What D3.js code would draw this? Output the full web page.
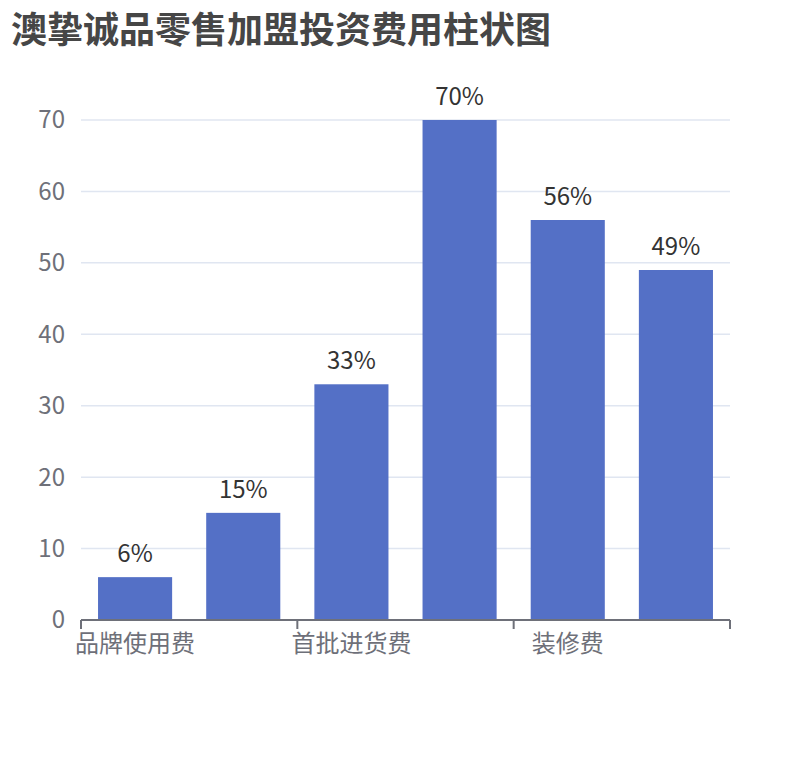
<!DOCTYPE html>
<html lang="zh">
<head>
    <meta charset="UTF-8">
    <title>澳挚诚品零售加盟投资费用柱状图</title>
    <script src="https://d3js.org/d3.v7.min.js"></script>
    <style>
        body { margin: 0; background: #fff; }
        svg { display: block; font-family: "Noto Sans CJK SC", "Noto Sans", sans-serif; }
    </style>
</head>
<body>

<div id="chart"></div>

<script>

    // categories (only every other one is labelled on the axis)
    var categories = ["品牌使用费", "加盟费", "首批进货费", "保证金", "装修费", "其他费用"];
    var values = [6, 15, 33, 70, 56, 49];
    var yTicks = [0, 10, 20, 30, 40, 50, 60, 70];
    var titleText = "澳挚诚品零售加盟投资费用柱状图";

    var width = 810, height = 760;
    var margin = {top: 120, right: 80, bottom: 140, left: 81};

    const svg = d3.select("#chart").append("svg")
        .attr("width", width)
        .attr("height", height);

    svg.append("text")
        .attr("x", 11)
        .attr("y", 43)
        .attr("fill", "#464646")
        .attr("font-size", 36)
        .attr("font-weight", "bold")
        .text(titleText);

    // category band (ticks on the boundaries)
    const xOuter = d3.scaleBand()
        .domain(categories)
        .range([margin.left, width - margin.right])
        .padding(0);

    // bars
    const x = d3.scaleBand()
        .domain(categories)
        .range([margin.left, width - margin.right])
        .paddingInner(0.315)
        .paddingOuter(0.1575);

    const y = d3.scaleLinear()
        .domain([0, 70])
        .range([height - margin.bottom, margin.top]);

    // grid lines
    svg.append("g")
        .selectAll("line")
        .data(yTicks.filter(d => d > 0))
        .join("line")
        .attr("x1", margin.left)
        .attr("x2", width - margin.right)
        .attr("y1", d => y(d))
        .attr("y2", d => y(d))
        .attr("stroke", "#E0E6F1")
        .attr("stroke-width", 1.5);

    // y axis labels
    svg.append("g")
        .selectAll("text")
        .data(yTicks)
        .join("text")
        .attr("x", margin.left - 16)
        .attr("y", d => y(d))
        .attr("dy", "0.35em")
        .attr("text-anchor", "end")
        .attr("fill", "#6E7079")
        .attr("font-size", 24)
        .text(d => d);

    // bars
    svg.append("g")
        .selectAll("rect")
        .data(values)
        .join("rect")
        .attr("x", (d, i) => x(categories[i]))
        .attr("y", d => y(d))
        .attr("width", x.bandwidth())
        .attr("height", d => y(0) - y(d))
        .attr("fill", "#5470C6");

    // value labels
    svg.append("g")
        .selectAll("text")
        .data(values)
        .join("text")
        .attr("x", (d, i) => x(categories[i]) + x.bandwidth() / 2)
        .attr("y", d => y(d) - 15)
        .attr("text-anchor", "middle")
        .attr("fill", "#333")
        .attr("font-size", 24)
        .text(d => d + "%");

    // x axis
    const xAxis = svg.append("g");
    const y0 = y(0);

    xAxis.append("line")
        .attr("x1", margin.left)
        .attr("x2", width - margin.right)
        .attr("y1", y0)
        .attr("y2", y0)
        .attr("stroke", "#6E7079")
        .attr("stroke-width", 2);

    var tickPos = categories.map(c => xOuter(c)).filter((d, i) => i % 2 === 0);
    tickPos.push(width - margin.right);

    xAxis.selectAll("line.tick")
        .data(tickPos)
        .join("line")
        .attr("class", "tick")
        .attr("x1", d => d)
        .attr("x2", d => d)
        .attr("y1", y0)
        .attr("y2", y0 + 9)
        .attr("stroke", "#6E7079")
        .attr("stroke-width", 2);

    xAxis.selectAll("text")
        .data(categories.filter((d, i) => i % 2 === 0))
        .join("text")
        .attr("x", d => xOuter(d) + xOuter.bandwidth() / 2)
        .attr("y", y0 + 24)
        .attr("dy", "0.35em")
        .attr("text-anchor", "middle")
        .attr("fill", "#6E7079")
        .attr("font-size", 24)
        .text(d => d);

</script>

</body>
</html>
